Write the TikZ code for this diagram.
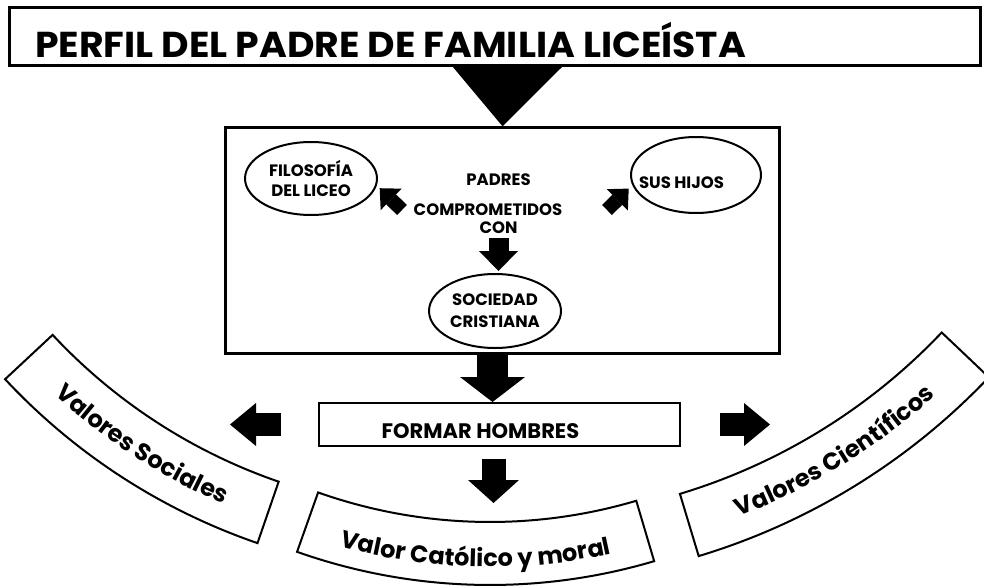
\documentclass[tikz,border=0pt]{standalone}
\usepackage{fontspec}
\setmainfont{Poppins}
\newfontfamily\titulofont[FakeStretch=1.05]{Poppins}
\newcommand{\bandafont}{\bfseries\fontsize{24}{27}\selectfont}
\usetikzlibrary{shapes.geometric,arrows.meta,decorations.text,positioning}

\begin{document}
\begin{tikzpicture}[x=1pt,y=-1pt,
    caja/.style={draw,inner sep=0pt},
    elipse/.style={draw,ellipse,line width=2pt,inner sep=0pt,align=center,font=\bfseries\fontsize{16.5}{20}\selectfont},
    texto/.style={anchor=base,inner sep=2pt,font=\bfseries\fontsize{16.5}{20}\selectfont},
    banda/.style={draw,line width=2pt,line join=miter},
    flecha/.style n args={3}{line width=#1,-{Triangle[length=#3,width=#2,line width=0pt]}},
    letrero/.style={decorate,decoration={text along path,text align=center}}]
  \useasboundingbox (0,0) rectangle (984,586);
  \clip (0,0) rectangle (984,586);

  \node[caja,line width=3pt,minimum width=971pt,minimum height=57pt] (titulo) at (494.5,36.5) {};
  \node[anchor=base west,inner sep=0pt,font=\titulofont\bfseries\fontsize{36}{40}\selectfont] (titulotexto) at (35,57) {PERFIL DEL PADRE DE FAMILIA LICEÍSTA};

  \node[caja,line width=2.5pt,minimum width=554pt,minimum height=226pt] (marco) at (502.5,240.5) {};
  \fill (marco.north) -- ([xshift=-50pt]marco.north |- titulo.south) -- ([xshift=60pt]marco.north |- titulo.south) -- cycle;

  \node[elipse,minimum width=132pt,minimum height=73pt] (filosofia) at (311,178.5) {FILOSOFÍA\\DEL LICEO};
  \node[elipse,minimum width=130pt,minimum height=76pt] (hijos) at (696,175) {};
  \node[texto] (hijostexto) at (681.5,188) {SUS HIJOS};
  \node[texto] (padres) at (498.5,185) {PADRES};
  \node[texto] (comprometidos) at (488,215) {COMPROMETIDOS};
  \node[texto] (con) at (498.5,233) {CON};
  \node[elipse,minimum width=132pt,minimum height=74pt,font=\bfseries\fontsize{16.5}{22}\selectfont] (sociedad) at (495,311) {SOCIEDAD\\CRISTIANA};

  \coordinate (izqcola) at (402,210);
  \coordinate (dercola) at (607,210);
  \draw[flecha={14pt}{30pt}{16pt},shorten >=4pt] (izqcola) -- (filosofia.-6);
  \draw[flecha={14pt}{30pt}{16pt},shorten >=5pt] (dercola) -- (hijos.189);
  \draw[flecha={20pt}{39pt}{20pt},shorten <=3pt,shorten >=2pt] (con.south) -- (con.south |- sociedad.north);

  \node[caja,line width=2pt,minimum width=361pt,minimum height=43pt] (formar) at (499.5,424.5) {};
  \node[anchor=base,inner sep=0pt,font=\bfseries\fontsize{21}{24}\selectfont] (formartexto) at (480.5,438) {FORMAR HOMBRES};
  \draw[flecha={31pt}{65pt}{25pt}] ([xshift=-7pt]formar.north |- marco.south) -- ([xshift=-7pt]formar.north);

  \coordinate (sociales) at (230,424.5);
  \coordinate (cientificos) at (770,424.5);
  \coordinate (catolico) at (493.5,503);
  \draw[flecha={23pt}{43pt}{26pt},shorten <=37pt] (formar.west) -- (sociales);
  \draw[flecha={23pt}{43pt}{26pt},shorten <=39pt] (formar.east) -- (cientificos);
  \draw[flecha={24pt}{51pt}{23pt},shorten <=12pt] (formar.south -| catolico) -- (catolico);

  \draw[banda,shift={(460,-45)}] (109:557) arc (109:137:557) -- (137:622) arc (137:109:622) -- cycle;
  \path[letrero,shift={(460,-45)},decoration={text={|\bandafont|Valores Sociales}}] (137:598) arc (137:109:598);

  \draw[banda,shift={(506.5,-80.5)}] (73.2:600) arc (73.2:43.5:600) -- (43.5:665) arc (43.5:73.2:665) -- cycle;
  \path[letrero,shift={(506.5,-80.5)},decoration={text={|\bandafont|Valores Científicos}}] (73.2:641) arc (73.2:43.5:641);

  \draw[banda,shift={(490,7)}] (109.5:515) arc (109.5:73.5:515) -- (73.5:578) arc (73.5:109.5:578) -- cycle;
  \path[letrero,shift={(490,7)},decoration={text={|\bandafont|Valor Católico y moral}}] (109.5:560) arc (109.5:73.5:560);
\end{tikzpicture}
\end{document}
